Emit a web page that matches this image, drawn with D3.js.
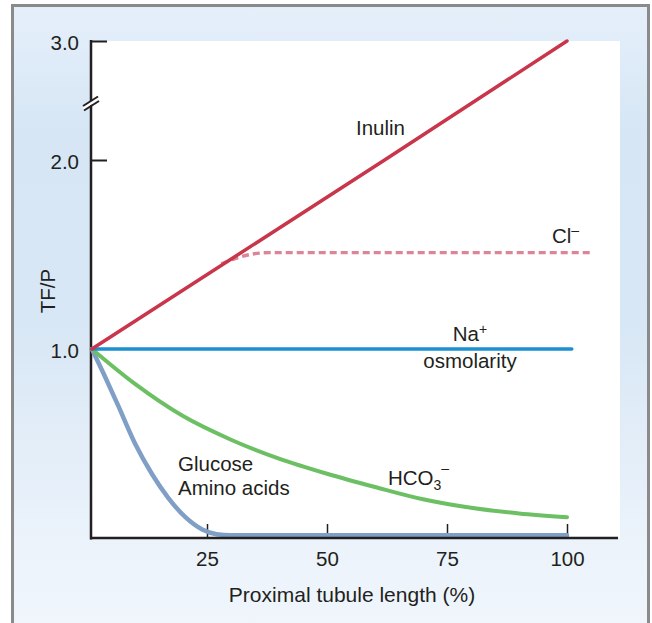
<!DOCTYPE html>
<html>
<head>
<meta charset="utf-8">
<script src="https://cdn.jsdelivr.net/npm/d3@7/dist/d3.min.js"></script>
<style>
  html, body { margin: 0; padding: 0; background: #ffffff; }
  svg { display: block; }
  text { font-family: "Liberation Sans", Arial, Helvetica, sans-serif; fill: #231f20; }
</style>
</head>
<body>
<svg id="chart" width="652" height="623"></svg>
<script>
// ---- Data ----
const xTicks = [25, 50, 75, 100];
const yTicks = [1.0, 2.0, 3.0];

const inulinX = [1, 62, 100];
const inulinY = [1.0, 2.0, 3.0];

const chlorideX = [28, 31, 34, 38, 105];
const chlorideY = [1.45, 1.48, 1.50, 1.51, 1.51];

const sodiumX = [1, 101];
const sodiumY = [1.0, 1.0];

const bicarbX = [1, 10, 20, 30, 40, 50, 60, 70, 80, 90, 100];
const bicarbY = [1.0, 0.815, 0.645, 0.52, 0.42, 0.34, 0.27, 0.205, 0.16, 0.13, 0.11];

const glucoseX = [1, 4, 6.5, 10, 13.5, 17, 20.5, 24, 27, 30, 100];
const glucoseY = [1.0, 0.84, 0.70, 0.50, 0.34, 0.21, 0.11, 0.045, 0.02, 0.015, 0.015];

const zip = (xs, ys) => xs.map((x, i) => ({ x, y: ys[i] }));

// ---- Layout ----
const svg = d3.select("#chart");

const defs = svg.append("defs");
const grad = defs.append("linearGradient").attr("id", "bg").attr("x1", 0).attr("y1", 0).attr("x2", 0).attr("y2", 1);
[[0, "#e5effa"], [0.2, "#d6e6f5"], [0.5, "#d8e7f5"], [0.85, "#ecf3fb"], [1, "#f1f6fc"]]
  .forEach(([o, c]) => grad.append("stop").attr("offset", o).attr("stop-color", c));

// frame
svg.append("rect").attr("x", 12.5).attr("y", 5.5).attr("width", 636).attr("height", 640)
  .attr("fill", "url(#bg)").attr("stroke", "#8a8a8a").attr("stroke-width", 3);

const plotLeft = 91, plotRight = 620, plotTop = 41, plotBottom = 538;

// white plot area
svg.append("rect").attr("x", plotLeft).attr("y", plotTop)
  .attr("width", plotRight - plotLeft).attr("height", plotBottom - plotTop).attr("fill", "#ffffff");

const x = d3.scaleLinear().domain([0, 100]).range([87, 567]);
const y = d3.scaleLinear().domain([0, 2, 3]).range([538, 160, 41]);

const line = d3.line().x(d => x(d.x)).y(d => y(d.y)).curve(d3.curveMonotoneX);
const straight = d3.line().x(d => x(d.x)).y(d => y(d.y));

// ---- Axes ----
const axisColor = "#231f20";
const tickFs = 20.5;

// Y axis
const yAxis = d3.axisLeft(y).tickValues(yTicks).tickFormat(d3.format(".1f"))
  .tickSizeInner(-16).tickSizeOuter(0).tickPadding(12);
const gy = svg.append("g").attr("transform", `translate(${plotLeft},0)`).call(yAxis);
gy.select(".domain").remove();
gy.selectAll(".tick line").attr("stroke", axisColor).attr("stroke-width", 2);
gy.selectAll(".tick").filter(d => d === 1).select("line").remove();
gy.selectAll(".tick text").attr("font-size", tickFs).attr("dy", "0.41em")
  .style("font-family", '"Liberation Sans", Arial, sans-serif').attr("fill", axisColor);

gy.append("line").attr("x1", 0).attr("x2", 0).attr("y1", plotTop - 1).attr("y2", plotBottom + 1.5)
  .attr("stroke", axisColor).attr("stroke-width", 2.5);

// axis break
const breakY = 103;
const brk = svg.append("g").attr("transform", `translate(${plotLeft},${breakY})`);
brk.append("polygon").attr("points", "-8,3 8,-7 8,-3 -8,7").attr("fill", "#ffffff");
brk.append("line").attr("x1", -8).attr("y1", 3).attr("x2", 7).attr("y2", -6.5)
  .attr("stroke", axisColor).attr("stroke-width", 2);
brk.append("line").attr("x1", -7).attr("y1", 7.5).attr("x2", 8).attr("y2", -2)
  .attr("stroke", axisColor).attr("stroke-width", 2);

// X axis
const xAxis = d3.axisBottom(x).tickValues(xTicks).tickFormat(d3.format("d"))
  .tickSizeInner(-14).tickSizeOuter(0).tickPadding(13);
const gx = svg.append("g").attr("transform", `translate(0,${plotBottom})`).call(xAxis);
gx.select(".domain").remove();
gx.selectAll(".tick line").attr("stroke", axisColor).attr("stroke-width", 1.5);
gx.selectAll(".tick text").attr("font-size", tickFs)
  .style("font-family", '"Liberation Sans", Arial, sans-serif').attr("fill", axisColor);

// ---- Series ----
const g = svg.append("g");

g.append("path").datum(zip(glucoseX, glucoseY)).attr("d", line)
  .attr("fill", "none").attr("stroke", "#809fc7").attr("stroke-width", 4.5).attr("stroke-linecap", "round");

g.append("path").datum(zip(bicarbX, bicarbY)).attr("d", line)
  .attr("fill", "none").attr("stroke", "#6cc063").attr("stroke-width", 4).attr("stroke-linecap", "round");

g.append("path").datum(zip(chlorideX, chlorideY)).attr("d", line)
  .attr("fill", "none").attr("stroke", "#db8597").attr("stroke-width", 3.4)
  .attr("stroke-dasharray", "7,4");

g.append("path").datum(zip(sodiumX, sodiumY)).attr("d", straight)
  .attr("fill", "none").attr("stroke", "#1c8fd0").attr("stroke-width", 3.5).attr("stroke-linecap", "round");

g.append("path").datum(zip(inulinX, inulinY)).attr("d", straight)
  .attr("fill", "none").attr("stroke", "#c9354a").attr("stroke-width", 3.5).attr("stroke-linecap", "round");

// x axis line (drawn after series so it sits on top)
svg.append("line").attr("x1", plotLeft - 1).attr("x2", 618).attr("y1", plotBottom).attr("y2", plotBottom)
  .attr("stroke", axisColor).attr("stroke-width", 2.5);

// ---- Labels ----
const fs = 20.5;
const lab = svg.append("g").attr("font-size", fs);

lab.append("text").attr("x", 356).attr("y", 135).text("Inulin");

const cl = lab.append("text").attr("x", 552).attr("y", 243);
cl.append("tspan").text("Cl");
cl.append("tspan").attr("font-size", 14).attr("dy", -8).text("\u2013");

const na = lab.append("text").attr("x", 470).attr("y", 341).attr("text-anchor", "middle");
na.append("tspan").text("Na");
na.append("tspan").attr("font-size", 14).attr("dy", -7).text("+");

lab.append("text").attr("x", 470).attr("y", 368).attr("text-anchor", "middle").text("osmolarity");

lab.append("text").attr("x", 178).attr("y", 471).text("Glucose");
lab.append("text").attr("x", 178).attr("y", 495).text("Amino acids");

const hc = lab.append("text").attr("x", 388).attr("y", 485);
hc.append("tspan").text("HCO");
hc.append("tspan").attr("font-size", 14).attr("dy", 5).text("3");
hc.append("tspan").attr("font-size", 14).attr("dy", -17).text("\u2013");

// axis titles
svg.append("text").attr("x", 352).attr("y", 601.5).attr("text-anchor", "middle")
  .attr("font-size", 21).text("Proximal tubule length (%)");

svg.append("text").attr("transform", "translate(55,291) rotate(-90)").attr("text-anchor", "middle")
  .attr("font-size", fs).text("TF/P");
</script>
</body>
</html>
